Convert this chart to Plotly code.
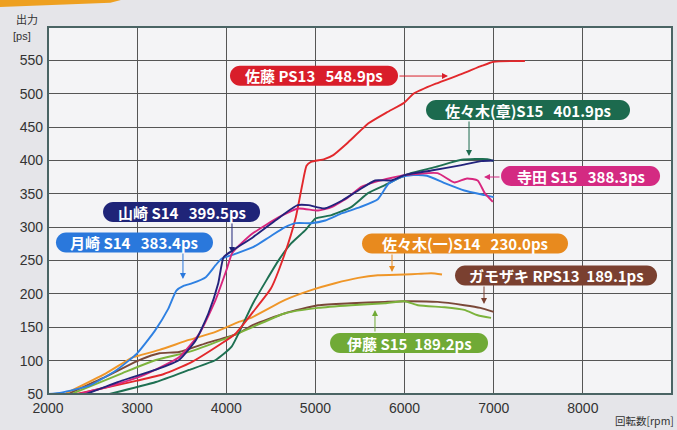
import plotly.graph_objects as go

# ---------------- data ----------------
sato_rpm = [2320, 2600, 3000, 3300, 3600, 3950, 4100, 4300, 4500, 4650, 4780, 4850, 4900, 4950, 5100, 5200, 5350, 5600, 5800, 6000, 6100, 6350, 6650, 6870, 7000, 7350]
sato_ps = [50, 58, 70, 80, 97, 126, 140, 173, 208, 258, 315, 362, 392, 398, 402, 408, 425, 456, 472, 487, 500, 515, 530, 542, 548, 549]

sasakiA_rpm = [2690, 3210, 3580, 3880, 4060, 4300, 4590, 4730, 4890, 5000, 5180, 5400, 5590, 5780, 5930, 6070, 6340, 6640, 6930, 7000]
sasakiA_ps = [50, 68, 86, 101, 121, 186, 251, 276, 296, 313, 318, 330, 351, 363, 373, 381, 390, 401, 402, 399]

terada_rpm = [2350, 2700, 3030, 3470, 3700, 3880, 4000, 4070, 4290, 4590, 4810, 5030, 5180, 5370, 5510, 5700, 6000, 6370, 6560, 6700, 6820, 6900, 6990]
terada_ps = [50, 62, 76, 105, 141, 191, 235, 262, 290, 315, 328, 325, 330, 345, 360, 369, 378, 381, 367, 373, 370, 351, 338]

yamazaki_rpm = [2430, 2830, 3200, 3470, 3660, 3800, 3910, 3970, 4070, 4300, 4550, 4800, 4920, 5100, 5300, 5480, 5670, 5850, 6000, 6300, 6640, 6860, 7000]
yamazaki_ps = [50, 70, 86, 101, 131, 171, 216, 255, 265, 285, 310, 333, 333, 328, 340, 355, 370, 370, 378, 385, 393, 399, 400]

tsukizaki_rpm = [2000, 2150, 2470, 2770, 3000, 3200, 3350, 3440, 3520, 3620, 3770, 3880, 3950, 4100, 4300, 4480, 4660, 4780, 4950, 5110, 5300, 5500, 5700, 5820, 5960, 6100, 6250, 6450, 6670, 6900, 7000]
tsukizaki_ps = [50, 52, 63, 86, 111, 145, 178, 205, 212, 216, 225, 243, 253, 260, 270, 285, 300, 306, 306, 310, 321, 330, 342, 365, 375, 378, 377, 366, 355, 348, 345]

sasakiI_rpm = [2200, 2650, 2950, 3030, 3250, 3580, 3880, 4140, 4290, 4660, 4960, 5220, 5480, 5700, 6000, 6150, 6300, 6420]
sasakiI_ps = [51, 81, 105, 108, 116, 131, 143, 158, 165, 191, 206, 216, 224, 228, 229, 230, 231, 229]

gamozaki_rpm = [2240, 2650, 3030, 3250, 3470, 3770, 4140, 4290, 4660, 5030, 5400, 5780, 6000, 6370, 6670, 6850, 7000]
gamozaki_ps = [51, 76, 101, 111, 113, 126, 141, 153, 171, 183, 186, 188, 189, 188, 183, 179, 173]

ito_rpm = [2280, 2830, 3210, 3580, 3950, 4290, 4660, 5030, 5400, 5780, 6000, 6150, 6450, 6670, 6820, 6970]
ito_ps = [51, 81, 101, 113, 131, 150, 171, 179, 183, 186, 189, 183, 180, 176, 168, 164]

series_names = ["佐藤 PS13", "佐々木(章)S15", "寺田 S15", "山崎 S14", "月崎 S14", "佐々木(一)S14", "ガモザキ RPS13", "伊藤 S15"]
label_texts = ["佐藤 PS13   548.9ps", "佐々木(章)S15   401.9ps", "寺田 S15   388.3ps", "山崎 S14   399.5ps",
               "月崎 S14   383.4ps", "佐々木(一)S14   230.0ps", "ガモザキ RPS13  189.1ps", "伊藤 S15  189.2ps"]

x_ticks = [2000, 3000, 4000, 5000, 6000, 7000, 8000]
y_ticks = [50, 100, 150, 200, 250, 300, 350, 400, 450, 500, 550]

# ---------------- styling ----------------
line_colors = ["#e2282c", "#1e7052", "#d8267e", "#23237c", "#2e80e2", "#ef9628", "#7a4838", "#7cb33c"]
pill_colors = ["#d91e2a", "#1c6a4e", "#d42a82", "#1f2478", "#2a78dc", "#e88a1e", "#7a4030", "#70aa36"]
# label layout: (center rpm, center ps, width px, arrow head rpm, arrow head ps, ax, ay)
label_layout = [
    (4984, 527.0, 168, 6487, 526.5, -50, 0),
    (7385, 475.6, 204, 6723, 406.7, 0, -36),
    (7974, 376.7, 159, 6891, 375.2, 17, 0),
    (3498, 322.7, 157, 4064, 261.3, 0, -31),
    (2970, 277.0, 157, 3514, 222.3, 0, -27),
    (6678, 275.5, 206, 5859, 232.8, 0, -19),
    (7699, 227.6, 202, 6891, 184.9, 0, -19),
    (6050, 126.4, 158, 5668, 175.9, 0, 23),
]

all_rpm = [sato_rpm, sasakiA_rpm, terada_rpm, yamazaki_rpm, tsukizaki_rpm, sasakiI_rpm, gamozaki_rpm, ito_rpm]
all_ps = [sato_ps, sasakiA_ps, terada_ps, yamazaki_ps, tsukizaki_ps, sasakiI_ps, gamozaki_ps, ito_ps]

fig = go.Figure()
draw_order = [6, 7, 5, 1, 0, 4, 2, 3]
for i in draw_order:
    fig.add_trace(go.Scatter(x=all_rpm[i], y=all_ps[i], mode="lines", name=series_names[i],
                             line=dict(color=line_colors[i], width=1.9, shape="spline", smoothing=0.5),
                             hoverinfo="skip"))

shapes = []
annotations = []


def pill_path(w, h):
    r = h / 2.0
    x0, x1 = -w / 2.0, w / 2.0
    k = 0.5523 * r
    return (f"M {x0 + r},{-r} L {x1 - r},{-r} "
            f"C {x1 - r + k},{-r} {x1},{-k} {x1},0 "
            f"C {x1},{k} {x1 - r + k},{r} {x1 - r},{r} "
            f"L {x0 + r},{r} "
            f"C {x0 + r - k},{r} {x0},{k} {x0},0 "
            f"C {x0},{-k} {x0 + r - k},{-r} {x0 + r},{-r} Z")


for i, (cx, cy, w, hx, hy, ax, ay) in enumerate(label_layout):
    shapes.append(dict(type="path", xref="x", yref="y", xsizemode="pixel", ysizemode="pixel",
                       xanchor=cx, yanchor=cy, path=pill_path(w, 20),
                       fillcolor=pill_colors[i], line=dict(width=0), layer="above"))
    annotations.append(dict(x=cx, y=cy, xref="x", yref="y", text=label_texts[i], showarrow=False,
                            font=dict(family="Noto Sans CJK JP", size=15, color="white", weight=700),
                            xanchor="center", yanchor="middle"))
    annotations.append(dict(x=hx, y=hy, xref="x", yref="y", text="", showarrow=True,
                            ax=ax, ay=ay, axref="pixel", ayref="pixel",
                            arrowcolor=pill_colors[i], arrowwidth=1, arrowhead=2, arrowsize=1.2))

# plot border
shapes.append(dict(type="rect", xref="paper", yref="paper", x0=0, x1=1, y0=0, y1=1,
                   line=dict(color="#4a6464", width=2), fillcolor="rgba(0,0,0,0)", layer="above"))
# orange stripe at top-left
shapes.append(dict(type="path", xref="paper", yref="paper",
                   path="M -0.08,1.075 L 0.12,1.075 L 0.10,1.066 L -0.08,1.054 Z",
                   fillcolor="#eea020", line=dict(width=0), layer="above"))

annotations += [
    dict(x=-0.053, y=1.021, xref="paper", yref="paper", text="出力", showarrow=False,
         xanchor="left", yanchor="middle", borderpad=0,
         font=dict(family="Noto Sans CJK JP", size=11, color="#333")),
    dict(x=-0.057, y=0.975, xref="paper", yref="paper", text="[ps]", showarrow=False,
         xanchor="left", yanchor="middle", borderpad=0,
         font=dict(family="Liberation Sans", size=11, color="#333")),
    dict(x=1.006, y=-0.045, xref="paper", yref="paper", text="回転数[rpm]", showarrow=False,
         xanchor="right", yanchor="top", font=dict(family="Noto Sans CJK JP", size=10.5, color="#333")),
]

fig.update_layout(
    width=677, height=430,
    margin=dict(l=48, r=5, t=27, b=36),
    paper_bgcolor="#e5e5e9",
    plot_bgcolor="#f4f4f6",
    showlegend=False,
    shapes=shapes,
    annotations=annotations,
    font=dict(family="Liberation Sans", size=14, color="#333"),
)
fig.update_xaxes(range=[2000, 9000], tickvals=x_ticks, ticktext=[str(v) for v in x_ticks],
                 showgrid=True, gridcolor="#555", gridwidth=1, zeroline=False,
                 ticks="", ticklabelstandoff=4, tickfont=dict(size=14, color="#333"))
fig.update_yaxes(range=[50, 600], tickvals=y_ticks, ticktext=[str(v) for v in y_ticks],
                 showgrid=True, gridcolor="#555", gridwidth=1, zeroline=False,
                 ticks="", ticklabelstandoff=4, tickfont=dict(size=14, color="#333"))

fig.write_html("out.html", config={"displayModeBar": False},
               post_script="document.body.style.margin='0';")
